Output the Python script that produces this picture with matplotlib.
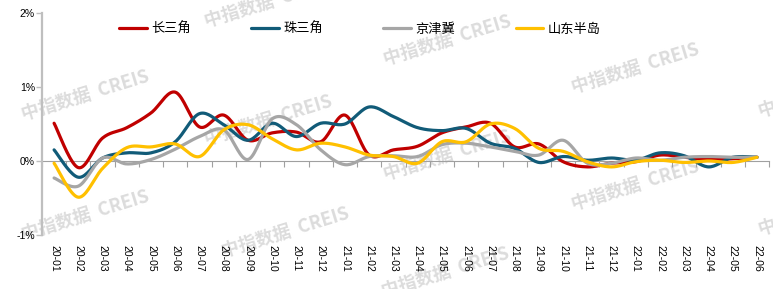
import numpy as np
import matplotlib
matplotlib.use("Agg")
from matplotlib import pyplot as plt

plt.rcParams['font.family'] = ['Noto Sans CJK SC', 'DejaVu Sans']

months = ['20-01', '20-02', '20-03', '20-04', '20-05', '20-06', '20-07', '20-08', '20-09', '20-10',
          '20-11', '20-12', '21-01', '21-02', '21-03', '21-04', '21-05', '21-06', '21-07', '21-08',
          '21-09', '21-10', '21-11', '21-12', '22-01', '22-02', '22-03', '22-04', '22-05', '22-06']

# monthly change, %
yrd = [0.51, -0.09, 0.31, 0.45, 0.65, 0.93, 0.46, 0.62, 0.28, 0.38,
       0.39, 0.26, 0.62, 0.08, 0.15, 0.20, 0.38, 0.46, 0.51, 0.19,
       0.23, -0.01, -0.08, -0.03, -0.01, 0.08, 0.05, 0.02, 0.03, 0.05]
prd = [0.15, -0.22, 0.04, 0.11, 0.11, 0.26, 0.64, 0.49, 0.28, 0.51,
       0.33, 0.51, 0.50, 0.73, 0.60, 0.45, 0.41, 0.44, 0.24, 0.17,
       -0.02, 0.06, 0.01, 0.04, 0.01, 0.11, 0.07, -0.08, 0.05, 0.05]
jjj = [-0.23, -0.34, 0.04, -0.04, 0.02, 0.16, 0.33, 0.42, 0.02, 0.57,
       0.49, 0.15, -0.05, 0.06, 0.07, 0.06, 0.22, 0.24, 0.19, 0.13,
       0.08, 0.28, -0.03, -0.03, 0.04, 0.01, 0.05, 0.06, 0.05, 0.05]
sdb = [-0.03, -0.49, -0.10, 0.18, 0.19, 0.23, 0.06, 0.42, 0.49, 0.30,
       0.15, 0.24, 0.19, 0.08, 0.06, -0.03, 0.26, 0.26, 0.50, 0.44,
       0.17, 0.13, -0.01, -0.08, -0.01, 0.01, -0.02, 0.00, -0.02, 0.05]

series = [('长三角', yrd, '#C00000'),
          ('珠三角', prd, '#115B78'),
          ('京津冀', jjj, '#A6A6A6'),
          ('山东半岛', sdb, '#FFC000')]


def smooth(x, y, n=20):
    # bezier smoothing like excel's smoothed line
    x = np.asarray(x, float)
    y = np.asarray(y, float)
    px = np.concatenate([[x[0]], x, [x[-1]]])
    py = np.concatenate([[y[0]], y, [y[-1]]])
    t = np.linspace(0, 1, n)[:, None]
    xs, ys = [], []
    for i in range(1, len(px) - 2):
        p0 = np.array([px[i], py[i]])
        p3 = np.array([px[i + 1], py[i + 1]])
        c1 = p0 + (np.array([px[i + 1], py[i + 1]]) - np.array([px[i - 1], py[i - 1]])) / 6
        c2 = p3 - (np.array([px[i + 2], py[i + 2]]) - np.array([px[i], py[i]])) / 6
        b = (1 - t) ** 3 * p0 + 3 * (1 - t) ** 2 * t * c1 + 3 * (1 - t) * t ** 2 * c2 + t ** 3 * p3
        xs.append(b[:, 0])
        ys.append(b[:, 1])
    return np.concatenate(xs), np.concatenate(ys)


fig = plt.figure(figsize=(7.73, 2.89), dpi=100)
ax = fig.add_axes([0.0543, 0.187, 0.9407, 0.768])
ax.patch.set_alpha(0)

# watermarks
wm = [(85, 95), (85, 215), (268, 2), (268, 120), (285, 232), (447, 40), (447, 155),
      (445, 272), (635, 68), (635, 185), (822, 92), (822, 210)]
for cx, cy in wm:
    fig.text(cx / 773, 1 - cy / 289, '中指数据  CREIS', fontsize=13, fontweight='bold',
             color='#DCDCDC', rotation=17, ha='center', va='center', zorder=-1)

x = np.arange(len(months))
for name, vals, col in series:
    sx, sy = smooth(x, vals)
    ax.plot(sx, sy, color=col, lw=2.3, label=name, solid_capstyle='round', zorder=3)

ax.set_xlim(-0.5, len(months) - 0.5)
ax.set_ylim(-1, 2)
ax.set_yticks([-1, 0, 1, 2])
ax.set_yticklabels(['-1%', '0%', '1%', '2%'], fontsize=7.5, family=['Liberation Sans'])
ax.tick_params(axis='y', direction='out', length=4, width=1, color='#BFBFBF', pad=1)

ax.set_xticks(x)
ax.set_xticklabels(months, rotation=-90, fontsize=7.5, family=['Liberation Sans'])
ax.tick_params(axis='x', length=0, pad=7)

for s in ['top', 'right', 'bottom']:
    ax.spines[s].set_visible(False)
ax.spines['left'].set_color('#BFBFBF')
ax.spines['left'].set_linewidth(1.6)

# zero line with tick marks between months
zero = ax.secondary_xaxis(1 / 3)
zero.set_xticks(np.arange(-0.5, len(months) - 0.4, 1))
zero.set_xticklabels([])
zero.tick_params(direction='out', length=4, width=0.8, color='#A0A0A0')
zero.spines['bottom'].set_color('#A0A0A0')
zero.spines['bottom'].set_linewidth(0.8)

ax.legend(loc='center', bbox_to_anchor=(0.437, 0.928), ncol=4, frameon=False,
          fontsize=9.5, handlelength=2.1, handletextpad=0.3, columnspacing=4.6)

fig.savefig('out.png', dpi=100)
